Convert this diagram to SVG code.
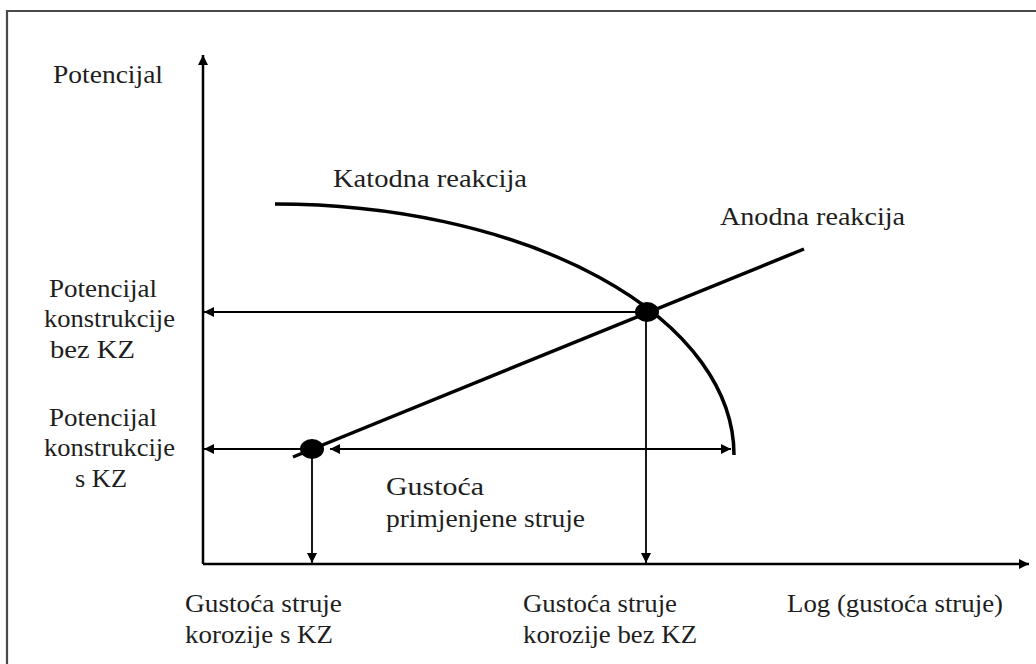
<svg xmlns="http://www.w3.org/2000/svg" width="1036" height="664" viewBox="0 0 1036 664">
<style>
.axis{stroke:#000;stroke-width:2.5;fill:none}
.thin{stroke:#000;stroke-width:1.8;fill:none}
.curve{stroke:#000;stroke-width:3.5;fill:none}
</style>
<defs>
<marker id="ah" viewBox="0 0 10 10" refX="10" refY="5" markerWidth="12" markerHeight="10" markerUnits="userSpaceOnUse" orient="auto-start-reverse">
<path d="M0,0 L10,5 L0,10 z" fill="#000"/>
</marker>
<marker id="ahs" viewBox="0 0 10 10" refX="10" refY="5" markerWidth="14" markerHeight="10" markerUnits="userSpaceOnUse" orient="auto-start-reverse">
<path d="M0,0 L10,5 L0,10 z" fill="#000"/>
</marker>
</defs>
<rect width="1036" height="664" fill="#fff"/>
<g id="frame">
<path d="M7,664 V11 H1036" stroke="#4a4a4a" stroke-width="2.2" fill="none"/>
</g>
<g id="connectors">
<line id="y-axis" class="axis" x1="203" y1="564" x2="203" y2="55" marker-end="url(#ah)"/>
<line id="x-axis" class="axis" x1="203" y1="564" x2="1029" y2="564" marker-end="url(#ah)"/>
<path id="katodna" class="curve" d="M275,204 A459,251 0 0 1 734,455"/>
<line id="anodna" class="curve" x1="293" y1="457" x2="804" y2="249"/>
<line class="thin" x1="646" y1="312" x2="204" y2="312" marker-end="url(#ahs)"/>
<line class="thin" x1="312" y1="449" x2="204" y2="449" marker-end="url(#ahs)"/>
<line class="thin" x1="330" y1="449" x2="731" y2="449" marker-start="url(#ahs)" marker-end="url(#ahs)"/>
<line class="thin" x1="312" y1="449" x2="312" y2="563" marker-end="url(#ahs)"/>
<line class="thin" x1="646" y1="312" x2="646" y2="563" marker-end="url(#ahs)"/>
</g>
<g id="dot-kz">
<ellipse cx="312" cy="449" rx="12" ry="10" fill="#000"/>
</g>
<g id="dot-bez-kz">
<ellipse cx="647" cy="312" rx="12" ry="10" fill="#000"/>
</g>
<g id="labels" font-family="Liberation Serif, serif" font-size="26" fill="#1e1e1e" lengthAdjust="spacingAndGlyphs">
<text x="53" y="83" textLength="110" lengthAdjust="spacingAndGlyphs">Potencijal</text>
<text x="333" y="187" textLength="194" lengthAdjust="spacingAndGlyphs">Katodna reakcija</text>
<text x="720" y="225" textLength="185" lengthAdjust="spacingAndGlyphs">Anodna reakcija</text>
<text x="49" y="297" textLength="108" lengthAdjust="spacingAndGlyphs">Potencijal</text>
<text x="44" y="327" textLength="131" lengthAdjust="spacingAndGlyphs">konstrukcije</text>
<text x="50" y="358" textLength="85" lengthAdjust="spacingAndGlyphs">bez KZ</text>
<text x="49" y="426" textLength="108" lengthAdjust="spacingAndGlyphs">Potencijal</text>
<text x="44" y="456" textLength="131" lengthAdjust="spacingAndGlyphs">konstrukcije</text>
<text x="75" y="487" textLength="52" lengthAdjust="spacingAndGlyphs">s KZ</text>
<text x="386" y="495" textLength="98" lengthAdjust="spacingAndGlyphs">Gustoća</text>
<text x="386" y="527" textLength="199" lengthAdjust="spacingAndGlyphs">primjenjene struje</text>
<text x="185" y="612" textLength="157" lengthAdjust="spacingAndGlyphs">Gustoća struje</text>
<text x="185" y="643" textLength="148" lengthAdjust="spacingAndGlyphs">korozije s KZ</text>
<text x="523" y="612" textLength="154" lengthAdjust="spacingAndGlyphs">Gustoća struje</text>
<text x="523" y="643" textLength="174" lengthAdjust="spacingAndGlyphs">korozije bez KZ</text>
<text x="787" y="612" textLength="216" lengthAdjust="spacingAndGlyphs">Log (gustoća struje)</text>
</g>
</svg>
